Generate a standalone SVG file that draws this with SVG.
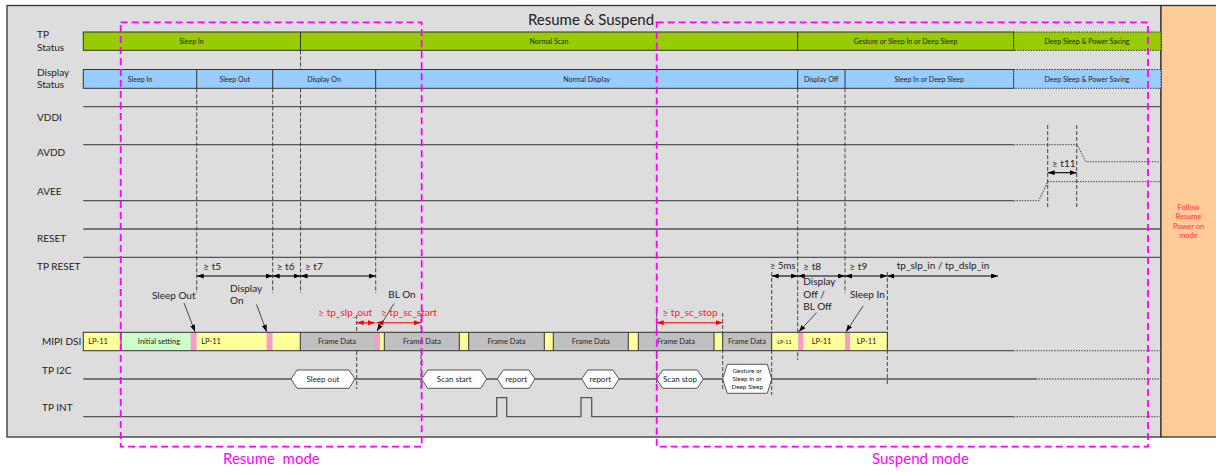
<svg xmlns="http://www.w3.org/2000/svg" width="1216" height="472" viewBox="0 0 1216 472">
<defs>
<style>
text{font-family:Lato,"Liberation Sans","DejaVu Sans",sans-serif;fill:#222}
.lbl{font-size:10px}
.bt{font-size:7px;text-anchor:middle}
.mt{font-size:7.5px;text-anchor:middle}
.ht{font-size:8px;text-anchor:middle}
.tm{font-size:10px}
.red{font-size:10px;fill:#ff2020}
.sig{stroke:#555;stroke-width:1.3;fill:none}
.dot{stroke:#666;stroke-width:1.3;fill:none;stroke-dasharray:1.5,1.2}
.vd{stroke:#333;stroke-width:0.9;fill:none;stroke-dasharray:4,2}
.mag{stroke:#ff00ff;stroke-width:1.8;fill:none;stroke-dasharray:7,4}
.arr{stroke:#000;stroke-width:1.1;fill:none;marker-start:url(#ah);marker-end:url(#ah)}
.arrr{stroke:#ff0000;stroke-width:1.1;fill:none;marker-start:url(#ahr);marker-end:url(#ahr)}
.lead{stroke:#222;stroke-width:0.8;fill:none;marker-end:url(#ah)}
.hex{fill:#fff;stroke:#555;stroke-width:1}
.seg{stroke:#333;stroke-width:1}
.mode{font-size:15px;fill:#ff00ff}
</style>
<marker id="ah" viewBox="0 0 7 5" refX="7" refY="2.5" markerWidth="7" markerHeight="5" markerUnits="userSpaceOnUse" orient="auto-start-reverse"><path d="M0,0L7,2.5L0,5z" fill="#000"/></marker>
<marker id="ahr" viewBox="0 0 7 5" refX="7" refY="2.5" markerWidth="7" markerHeight="5" markerUnits="userSpaceOnUse" orient="auto-start-reverse"><path d="M0,0L7,2.5L0,5z" fill="#ff0000"/></marker>
</defs>

<g id="frame">
<rect x="7" y="5.5" width="1154" height="431.5" fill="#dddddd" stroke="#333" stroke-width="1.3"/>
<rect x="1161" y="5.5" width="56" height="431.5" fill="#ffcc99" stroke="#333" stroke-width="1.3"/>
<text x="591" y="25" style="font-size:15px;text-anchor:middle">Resume &amp; Suspend</text>
<text x="1188.5" y="210" style="font-size:7.5px;fill:#ff3333;text-anchor:middle">Follow</text>
<text x="1188.5" y="219.3" style="font-size:7.5px;fill:#ff3333;text-anchor:middle">Resume</text>
<text x="1188.5" y="228.6" style="font-size:7.5px;fill:#ff3333;text-anchor:middle">Power on</text>
<text x="1188.5" y="237.9" style="font-size:7.5px;fill:#ff3333;text-anchor:middle">mode</text>
</g>

<g id="row-labels">
<text class="lbl" x="37" y="37.5">TP</text>
<text class="lbl" x="37" y="50.5">Status</text>
<text class="lbl" x="37" y="76">Display</text>
<text class="lbl" x="37" y="88">Status</text>
<text class="lbl" x="37" y="121">VDDI</text>
<text class="lbl" x="37" y="156">AVDD</text>
<text class="lbl" x="37" y="194.5">AVEE</text>
<text class="lbl" x="37" y="241.5">RESET</text>
<text class="lbl" x="37" y="270">TP RESET</text>
<text class="lbl" x="42" y="344.5">MIPI DSI</text>
<text class="lbl" x="42" y="373.5">TP I2C</text>
<text class="lbl" x="42" y="411">TP INT</text>
</g>

<g id="tp-status">
<rect x="83.3" y="32" width="930.4" height="18.3" fill="#99cc00" stroke="#333" stroke-width="1"/>
<rect x="1013.7" y="32" width="147.3" height="18.3" fill="#99cc00" stroke="#333" stroke-width="1" stroke-dasharray="1.5,1.2"/>
<line class="seg" x1="300.5" y1="32" x2="300.5" y2="50.3"/>
<line class="seg" x1="797.7" y1="32" x2="797.7" y2="50.3"/>
<text class="bt" x="191.5" y="43.5">Sleep In</text>
<text class="bt" x="549" y="43.5">Normal Scan</text>
<text class="bt" x="905.5" y="43.5">Gesture or Sleep In or Deep Sleep</text>
<text class="bt" x="1087" y="43.5">Deep Sleep &amp; Power Saving</text>
</g>

<g id="display-status">
<rect x="83.3" y="69.5" width="930.4" height="18.8" fill="#99ccff" stroke="#333" stroke-width="1"/>
<rect x="1013.7" y="69.5" width="147.3" height="18.8" fill="#99ccff" stroke="#333" stroke-width="1" stroke-dasharray="1.5,1.2"/>
<line class="seg" x1="196.7" y1="69.5" x2="196.7" y2="88.3"/>
<line class="seg" x1="272.7" y1="69.5" x2="272.7" y2="88.3"/>
<line class="seg" x1="375.7" y1="69.5" x2="375.7" y2="88.3"/>
<line class="seg" x1="797.7" y1="69.5" x2="797.7" y2="88.3"/>
<line class="seg" x1="845" y1="69.5" x2="845" y2="88.3"/>
<text class="bt" x="140" y="81.5">Sleep In</text>
<text class="bt" x="234.7" y="81.5">Sleep Out</text>
<text class="bt" x="324" y="81.5">Display On</text>
<text class="bt" x="586.7" y="81.5">Normal Display</text>
<text class="bt" x="821.3" y="81.5">Display Off</text>
<text class="bt" x="929.3" y="81.5">Sleep In or Deep Sleep</text>
<text class="bt" x="1087" y="81.5">Deep Sleep &amp; Power Saving</text>
</g>

<g id="power-lines">
<line class="sig" x1="83.3" y1="106.7" x2="1161" y2="106.7"/>
<line class="sig" x1="83.3" y1="144.7" x2="1013.7" y2="144.7"/>
<polyline class="dot" points="1013.7,144.7 1077,144.7 1086,161.7 1161,161.7"/>
<line class="sig" x1="83.3" y1="200.7" x2="1013.7" y2="200.7"/>
<polyline class="dot" points="1013.7,200.7 1038.7,200.7 1047.7,181.7 1161,181.7"/>
<line class="sig" x1="83.3" y1="229" x2="1161" y2="229"/>
<line class="sig" x1="83.3" y1="257.3" x2="1161" y2="257.3"/>
</g>

<g id="guides">
<line class="vd" x1="196.7" y1="88.3" x2="196.7" y2="293"/>
<line class="vd" x1="272.7" y1="88.3" x2="272.7" y2="293"/>
<line class="vd" x1="300.5" y1="50.3" x2="300.5" y2="69.5"/>
<line class="vd" x1="300.5" y1="88.3" x2="300.5" y2="293"/>
<line class="vd" x1="375.7" y1="88.3" x2="375.7" y2="293"/>
<line class="vd" x1="356.7" y1="315" x2="356.7" y2="389"/>
<line class="vd" x1="421" y1="313" x2="421" y2="389"/>
<line class="vd" x1="656.7" y1="313" x2="656.7" y2="390"/>
<line class="vd" x1="722.7" y1="313" x2="722.7" y2="391"/>
<line class="vd" x1="771.7" y1="272" x2="771.7" y2="395"/>
<line class="vd" x1="797.7" y1="88.3" x2="797.7" y2="360"/>
<line class="vd" x1="845" y1="88.3" x2="845" y2="293"/>
<line class="vd" x1="887.3" y1="272" x2="887.3" y2="386"/>
<line class="vd" x1="1047.7" y1="125" x2="1047.7" y2="209"/>
<line class="vd" x1="1076.7" y1="125" x2="1076.7" y2="209"/>
</g>

<g id="mipi-dsi">
<rect x="83.3" y="332.3" width="37.7" height="18.4" fill="#ffff99"/>
<rect x="121" y="332.3" width="69.7" height="18.4" fill="#ccffcc"/>
<rect x="190.7" y="332.3" width="6" height="18.4" fill="#ff99cc"/>
<rect x="196.7" y="332.3" width="70" height="18.4" fill="#ffff99"/>
<rect x="266.7" y="332.3" width="6" height="18.4" fill="#ff99cc"/>
<rect x="272.7" y="332.3" width="27.6" height="18.4" fill="#ffff99"/>
<rect x="300.3" y="332.3" width="74.7" height="18.4" fill="#c0c0c0"/>
<rect x="375" y="332.3" width="5" height="18.4" fill="#ff99cc"/>
<rect x="380" y="332.3" width="4.3" height="18.4" fill="#ffff99"/>
<rect x="384.3" y="332.3" width="75" height="18.4" fill="#c0c0c0"/>
<rect x="459.3" y="332.3" width="9.4" height="18.4" fill="#ffff99"/>
<rect x="468.7" y="332.3" width="75.6" height="18.4" fill="#c0c0c0"/>
<rect x="544.3" y="332.3" width="9" height="18.4" fill="#ffff99"/>
<rect x="553.3" y="332.3" width="75" height="18.4" fill="#c0c0c0"/>
<rect x="628.3" y="332.3" width="10" height="18.4" fill="#ffff99"/>
<rect x="638.3" y="332.3" width="75.7" height="18.4" fill="#c0c0c0"/>
<rect x="714" y="332.3" width="8.7" height="18.4" fill="#ffff99"/>
<rect x="722.7" y="332.3" width="49" height="18.4" fill="#c0c0c0"/>
<rect x="771.7" y="332.3" width="26.6" height="18.4" fill="#ffff99"/>
<rect x="798.3" y="332.3" width="5" height="18.4" fill="#ff99cc"/>
<rect x="803.3" y="332.3" width="41.7" height="18.4" fill="#ffff99"/>
<rect x="845" y="332.3" width="5" height="18.4" fill="#ff99cc"/>
<rect x="850" y="332.3" width="37.3" height="18.4" fill="#ffff99"/>
<rect x="83.3" y="332.3" width="804" height="18.4" fill="none" stroke="#333" stroke-width="1"/>
<path class="seg" d="M121,332.3V350.7M300.3,332.3V350.7M384.3,332.3V350.7M459.3,332.3V350.7M468.7,332.3V350.7M544.3,332.3V350.7M553.3,332.3V350.7M628.3,332.3V350.7M638.3,332.3V350.7M714,332.3V350.7M722.7,332.3V350.7M771.7,332.3V350.7"/>
<line class="sig" x1="887.3" y1="350.7" x2="1013.7" y2="350.7"/>
<line class="dot" x1="1013.7" y1="350.7" x2="1161" y2="350.7"/>
<text class="mt" x="98" y="344">LP-11</text>
<text class="mt" x="159" y="344">Initial setting</text>
<text class="mt" x="211" y="344">LP-11</text>
<text class="mt" x="337" y="344">Frame Data</text>
<text class="mt" x="422" y="344">Frame Data</text>
<text class="mt" x="506.5" y="344">Frame Data</text>
<text class="mt" x="590.8" y="344">Frame Data</text>
<text class="mt" x="676" y="344">Frame Data</text>
<text class="mt" x="747" y="344">Frame Data</text>
<text x="784.5" y="343.5" style="font-size:5.5px;text-anchor:middle">LP-11</text>
<text class="mt" x="821.5" y="344">LP-11</text>
<text class="mt" x="866.5" y="344">LP-11</text>
</g>

<g id="tp-i2c">
<line class="sig" x1="83.3" y1="379" x2="1036" y2="379"/>
<line class="dot" x1="1036" y1="379" x2="1161" y2="379"/>
<polygon class="hex" points="291,379 297,370 349,370 355,379 349,388.3 297,388.3"/>
<text class="ht" x="323" y="382">Sleep out</text>
<polygon class="hex" points="421.7,379 427.7,370 480.7,370 486.7,379 480.7,388.3 427.7,388.3"/>
<text class="ht" x="454.2" y="382">Scan start</text>
<polygon class="hex" points="497.3,379 503.3,370 529,370 535,379 529,388.3 503.3,388.3"/>
<text class="ht" x="516.2" y="382">report</text>
<polygon class="hex" points="581.7,379 587.7,370 613,370 619,379 613,388.3 587.7,388.3"/>
<text class="ht" x="600.3" y="382">report</text>
<polygon class="hex" points="656.7,379 662.7,370 697.3,370 703.3,379 697.3,388.3 662.7,388.3"/>
<text class="ht" x="680" y="382">Scan stop</text>
<polygon class="hex" points="722.7,379 727.3,364.3 767.3,364.3 771.7,379 767.3,393.3 727.3,393.3"/>
<text x="747.2" y="373" style="font-size:6.3px;text-anchor:middle">Gesture or</text>
<text x="747.2" y="380.8" style="font-size:6.3px;text-anchor:middle">Sleep In or</text>
<text x="747.2" y="388.6" style="font-size:6.3px;text-anchor:middle">Deep Sleep</text>
</g>

<g id="tp-int">
<polyline class="sig" points="83.3,416.7 496.7,416.7 496.7,397.7 506.7,397.7 506.7,416.7 581,416.7 581,397.7 591.7,397.7 591.7,416.7 1013.7,416.7"/>
<line class="dot" x1="1013.7" y1="416.7" x2="1161" y2="416.7"/>
</g>

<g id="connectors">
<line class="arr" x1="196.7" y1="276" x2="272.7" y2="276"/>
<line class="arr" x1="272.7" y1="276" x2="300.5" y2="276"/>
<line class="arr" x1="300.5" y1="276" x2="375.7" y2="276"/>
<line class="arr" x1="771.7" y1="276" x2="797.7" y2="276"/>
<line class="arr" x1="797.7" y1="276" x2="845" y2="276"/>
<line class="arr" x1="845" y1="276" x2="887.3" y2="276"/>
<line class="arr" x1="887.3" y1="276" x2="998" y2="276"/>
<line class="arr" x1="1047.7" y1="172.7" x2="1076.7" y2="172.7"/>
<line class="arrr" x1="356.7" y1="322.7" x2="375" y2="322.7"/>
<line class="arrr" x1="376.5" y1="322.7" x2="421" y2="322.7"/>
<line class="arrr" x1="656.7" y1="322.7" x2="722.7" y2="322.7"/>
<line class="lead" x1="184" y1="303" x2="195" y2="331.7"/>
<line class="lead" x1="256.5" y1="304.5" x2="266.7" y2="331.7"/>
<line class="lead" x1="394" y1="303.5" x2="377" y2="331"/>
<line class="lead" x1="816.7" y1="312.5" x2="798.8" y2="331.7"/>
<line class="lead" x1="863.3" y1="305.7" x2="846" y2="331.7"/>
</g>

<g id="timing-labels">
<text class="tm" x="203.3" y="270">≥ t5</text>
<text class="tm" x="276.7" y="270">≥ t6</text>
<text class="tm" x="305" y="270">≥ t7</text>
<text class="tm" x="770" y="269" style="font-size:9.5px">≥ 5ms</text>
<text class="tm" x="803.3" y="270">≥ t8</text>
<text class="tm" x="849.5" y="270">≥ t9</text>
<text class="tm" x="896.7" y="268.5">tp_slp_in / tp_dslp_in</text>
<text class="tm" x="1052" y="166.5">≥ t11</text>
<text class="tm" x="152" y="299">Sleep Out</text>
<text class="tm" x="230" y="292">Display</text>
<text class="tm" x="230" y="303.5">On</text>
<text class="tm" x="388.3" y="298">BL On</text>
<text class="tm" x="803.3" y="285">Display</text>
<text class="tm" x="803.3" y="297.5">Off /</text>
<text class="tm" x="803.3" y="310">BL Off</text>
<text class="tm" x="850" y="297.7">Sleep In</text>
<text class="red" x="318.3" y="315.5">≥ tp_slp_out</text>
<text class="red" x="381" y="315.5">≥ tp_sc_start</text>
<text class="red" x="662.5" y="315.5">≥ tp_sc_stop</text>
</g>

<g id="modes">
<rect class="mag" x="120.7" y="22.3" width="301" height="424.4"/>
<rect class="mag" x="656.7" y="22.3" width="491.3" height="424.4"/>
<text class="mode" x="223" y="464" xml:space="preserve">Resume  mode</text>
<text class="mode" x="872" y="464">Suspend mode</text>
</g>
</svg>
